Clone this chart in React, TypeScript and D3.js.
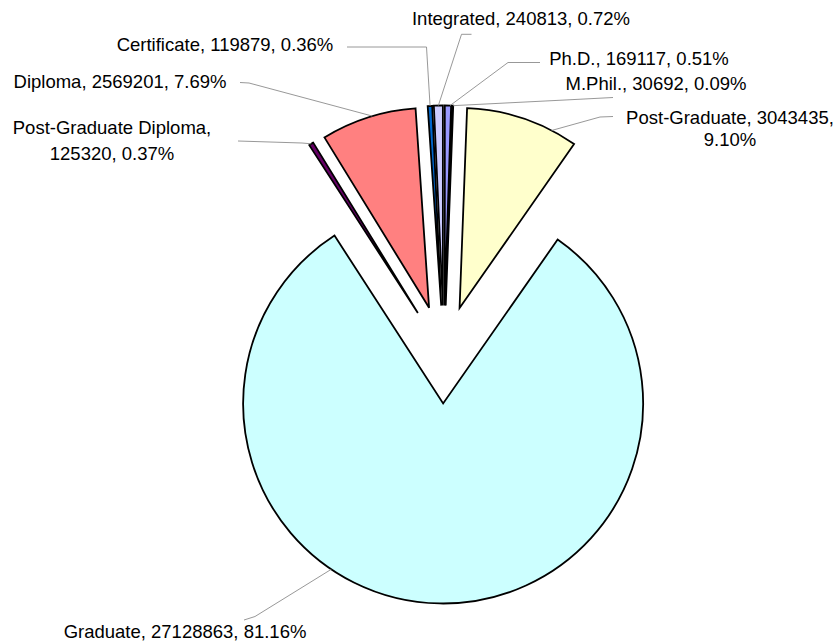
import React, { useEffect, useRef } from 'react';
import * as d3 from 'd3';

// data, in the order Excel draws it (clockwise from 12 o'clock)
const categories = ['Ph.D.', 'M.Phil.', 'Post-Graduate', 'Graduate', 'Post-Graduate Diploma', 'Diploma', 'Certificate', 'Integrated'];
const counts = [169117, 30692, 3043435, 27128863, 125320, 2569201, 119879, 240813];
const percentLabels = ['0.51%', '0.09%', '9.10%', '81.16%', '0.37%', '7.69%', '0.36%', '0.72%'];
const colors = ['#9999ff', '#993366', '#ffffcc', '#ccffff', '#660066', '#ff8080', '#0066cc', '#ccccff'];

// label placement (how the text was split, where it sits, leader elbows)
const labelLayout = [
  { lines: ['Ph.D., 169117, 0.51%'], x: 639, y: [65], from: [540, 62.5], elbow: [508, 62.5], angle: 1.5 },
  { lines: ['M.Phil., 30692, 0.09%'], x: 656, y: [90], from: [613, 97.5], elbow: [565, 100], angle: 2.1 },
  { lines: ['Post-Graduate, 3043435,', '9.10%'], x: 730, y: [124, 146], from: [613, 116.5], elbow: [600, 117], angle: 27.4 },
  { lines: ['Graduate, 27128863, 81.16%'], x: 185, y: [638], from: [244, 620], elbow: [255, 616.5], angle: 214 },
  { lines: ['Post-Graduate Diploma,', '125320, 0.37%'], x: 112, y: [134, 160], from: [238, 141], elbow: [302, 143], angle: 327.8 },
  { lines: ['Diploma, 2569201, 7.69%'], x: 120, y: [88], from: [240, 82.5], elbow: [249, 83], angle: 343.5 },
  { lines: ['Certificate, 119879, 0.36%'], x: 225, y: [51], from: [347, 47], elbow: [426.5, 47], angle: 356.8 },
  { lines: ['Integrated, 240813, 0.72%'], x: 521, y: [25], from: [471.5, 34.3], elbow: [461.5, 34.3], angle: 358.7 },
];

const App = () => {
  const svgRef = useRef(null);

  useEffect(() => {
    const width = 836;
    const height = 642;
    const cx = 444;
    const cy = 354.5;
    const radius = 200;
    const explode = 49;

    const svg = d3.select(svgRef.current)
      .attr('width', width)
      .attr('height', height);
    svg.selectAll('*').remove();

    const slices = categories.map((c, i) => ({ name: c, value: counts[i], i }));

    const pie = d3.pie()
      .sort(null)
      .value(d => d.value)
      .startAngle(0)
      .endAngle(2 * Math.PI);

    const arc = d3.arc()
      .innerRadius(0)
      .outerRadius(radius);

    const arcs = pie(slices);

    // every slice is pulled out along its middle angle
    const offset = d => {
      const mid = (d.startAngle + d.endAngle) / 2;
      return [Math.sin(mid) * explode, -Math.cos(mid) * explode];
    };

    const g = svg.append('g').attr('transform', `translate(${cx},${cy})`);

    // leader lines first, slices over them
    const leaders = svg.append('g');
    arcs.forEach((d, i) => {
      const lay = labelLayout[i];
      const [ox, oy] = offset(d);
      const a = (lay.angle * Math.PI) / 180;
      const end = [cx + ox + Math.sin(a) * radius, cy + oy - Math.cos(a) * radius];
      leaders.append('path')
        .attr('d', d3.line()([lay.from, lay.elbow, end]))
        .attr('fill', 'none')
        .attr('stroke', '#8c8c8c')
        .attr('stroke-width', 0.9);
    });

    g.selectAll('path.slice')
      .data(arcs)
      .enter().append('path')
      .attr('class', 'slice')
      .attr('transform', d => `translate(${offset(d)})`)
      .attr('d', arc)
      .attr('fill', d => colors[d.data.i])
      .attr('stroke', '#000')
      .attr('stroke-width', 1.8)
      .attr('stroke-linejoin', 'miter');

    // data labels
    const labels = svg.append('g')
      .style('font-family', '"Liberation Sans", Arial, sans-serif')
      .style('font-size', '18.5px')
      .attr('fill', '#000');

    labelLayout.forEach((lay, i) => {
      lay.lines.forEach((line, k) => {
        labels.append('text')
          .attr('x', lay.x)
          .attr('y', lay.y[k])
          .attr('text-anchor', 'middle')
          .text(line);
      });
    });
  }, []);

  return (
    <svg
      ref={svgRef}
      style={{ position: 'absolute', left: 0, top: 0, display: 'block', background: '#fff' }}
    ></svg>
  );
};

export default App;
